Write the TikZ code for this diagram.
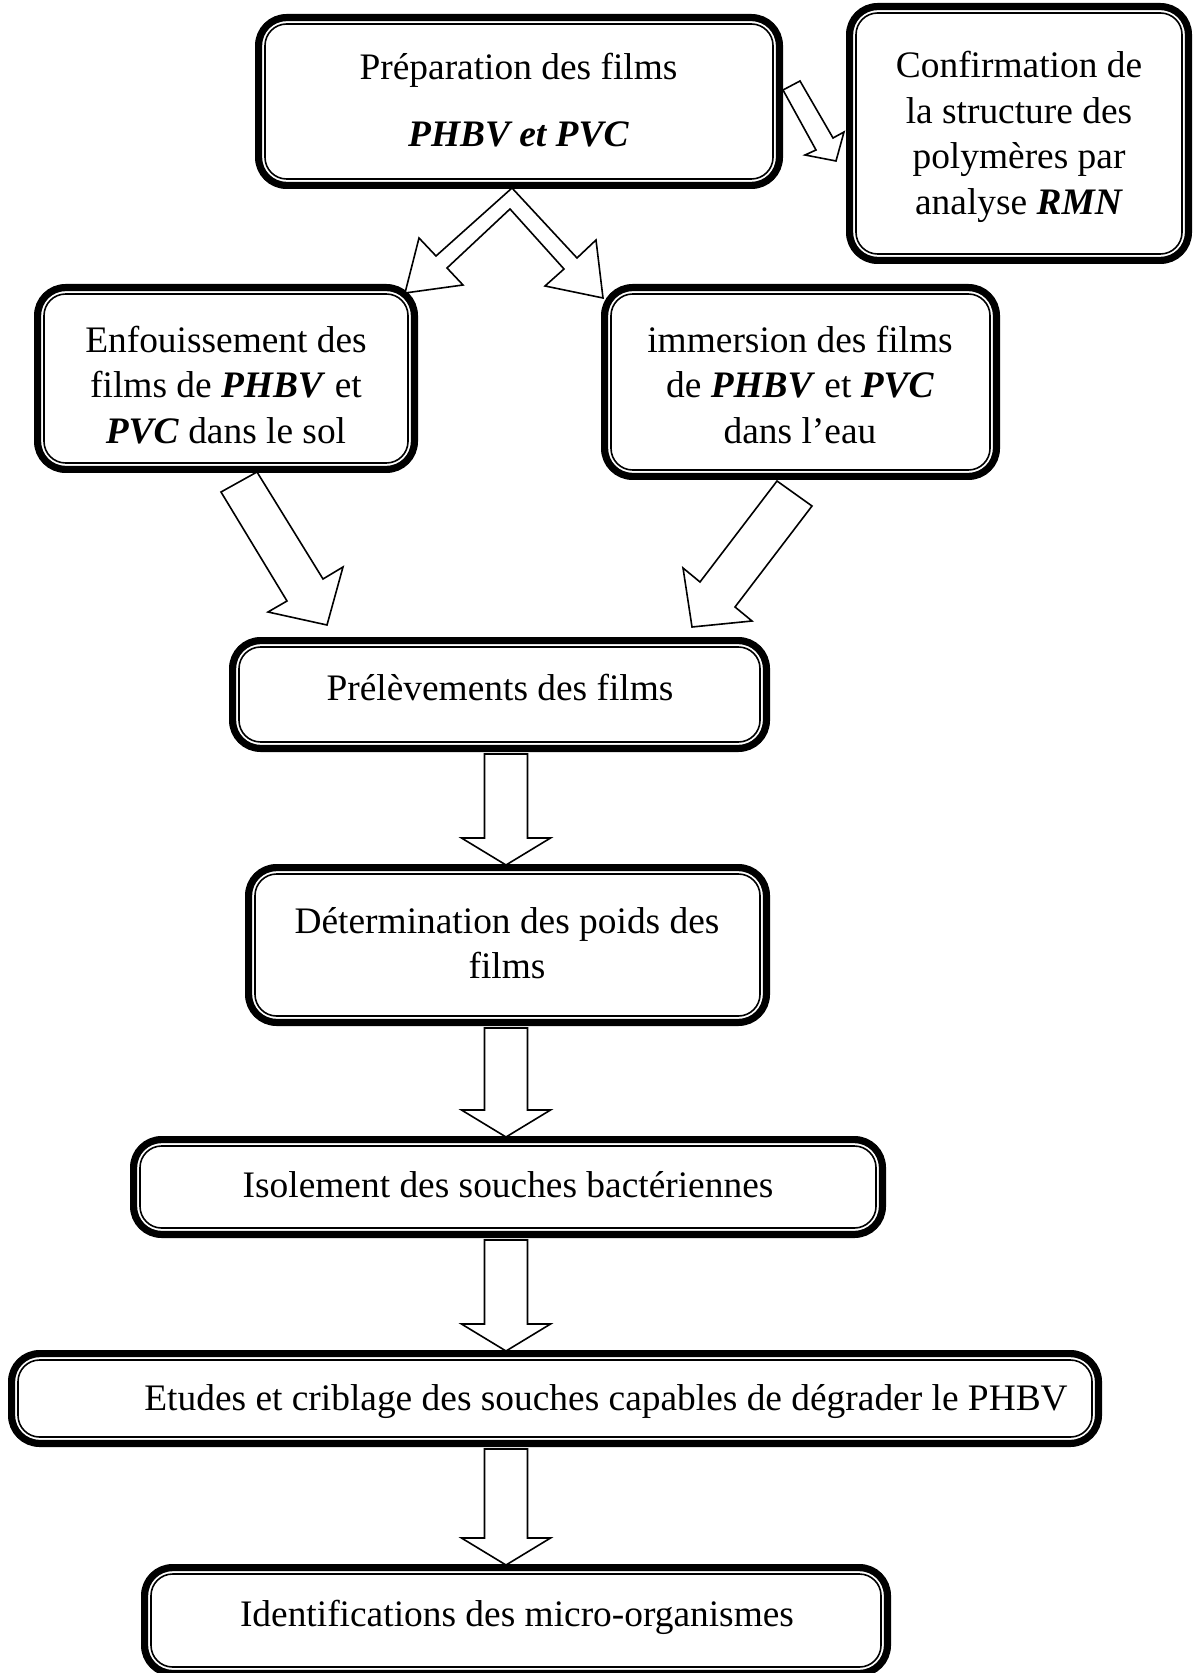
\documentclass[tikz,border=0pt]{standalone}
\usepackage{fontspec}
\setmainfont{Liberation Serif}
\usetikzlibrary{calc}
\newcommand{\bi}[1]{\textbf{\textit{#1}}}
\tikzset{
  dbox/.style={draw, line width=3.6pt, rounded corners=14pt, fill=white, inner sep=0pt},
  innerline/.style={draw, line width=0.8pt, rounded corners=10.8pt},
  lbl/.style={align=center, inner sep=0pt, font=\fontsize{18.7pt}{22.8pt}\selectfont},
  blockarrow/.style={draw, fill=white, line width=0.8pt, line join=miter},
}
% name, cx, cy, width, height : double-framed rounded box
\newcommand{\dnode}[5]{%
  \node[dbox, minimum width=#4, minimum height=#5] (#1) at (#2,#3) {};
  \draw[innerline] ([shift={(5pt,-5pt)}]#1.north west) rectangle ([shift={(-5pt,5pt)}]#1.south east);
}
% from node, to node : vertical block arrow
\newcommand{\vblockarrow}[2]{%
  \coordinate (at) at ($(ax |- #1.south)+(0,2)$);
  \coordinate (ah) at ($(ax |- #2.north)+(0,1)$);
  \draw[blockarrow] ($(at)+(-21.5,0)$) -- ($(at)+(21.5,0)$) -- ($(ah)+(21.5,-27)$) -- ($(ah)+(44.5,-27)$)
    -- (ah) -- ($(ah)+(-44.5,-27)$) -- ($(ah)+(-21.5,-27)$) -- cycle;
}
\begin{document}
\begin{tikzpicture}[x=0.5pt, y=-0.5pt]
\useasboundingbox (0,0) rectangle (1196,1673);
\coordinate (ax) at (506,0);

\dnode{b1}{519}{101.5}{260.4pt}{83.9pt}
\node[lbl] (t1) at (518.5,100.5) {Préparation des films\\[10.8pt]\bi{PHBV et PVC}};
\dnode{b2}{1019}{133.5}{169.4pt}{126.9pt}
\node[lbl] (t2) at (1019,137) {Confirmation de\\la structure des\\polymères par\\analyse \bi{RMN}};
\dnode{b3}{226}{378.5}{188.4pt}{90.9pt}
\node[lbl] (t3) at (226,385) {Enfouissement des\\films de \bi{PHBV} et\\\bi{PVC} dans le sol};
\dnode{b4}{800.5}{382}{195.9pt}{94.4pt}
\node[lbl] (t4) at (800,385) {immersion des films\\de \bi{PHBV} et \bi{PVC}\\dans l’eau};
\dnode{b5}{499.5}{694.5}{266.9pt}{53.9pt}
\node[lbl] (t5) at (500,688) {Prélèvements des films};
\dnode{b6}{507.5}{945}{258.9pt}{77.4pt}
\node[lbl] (t6) at (507,943) {Détermination des poids des\\films};
\dnode{b7}{508}{1187}{374.4pt}{47.4pt}
\node[lbl] (t7) at (508,1185) {Isolement des souches bactériennes};
\dnode{b8}{555}{1398.5}{543.4pt}{44.9pt}
\node[lbl] (t8) at (606,1402) {Etudes et criblage des souches capables de dégrader le PHBV};
\dnode{b9}{516}{1620.5}{371.4pt}{52.9pt}
\node[lbl] (t9) at (517,1617) {Identifications des micro-organismes};

% b1 -> b2
\draw[blockarrow] (783,90) -- (800,81) -- (833,138) -- (844,132) -- (836,161) -- (805,155) -- (816,150) -- cycle;
% b1 -> b3 and b1 -> b4 (chevron)
\draw[blockarrow] (512,188) -- (436,256) -- (419,238) -- (405,293) -- (463,285) -- (447,268) -- (510,209)
  -- (564,269) -- (545,286) -- (603,298) -- (596,240) -- (577,258) -- cycle;
% b3 -> b5
\draw[blockarrow] (221,492) -- (257,472) -- (323,579) -- (343,567) -- (327,625) -- (268,612) -- (287,601) -- cycle;
% b4 -> b5
\draw[blockarrow] (777,481) -- (812,506) -- (735,607) -- (752,621) -- (692,627) -- (683,568) -- (700,582) -- cycle;

\vblockarrow{b5}{b6}
\vblockarrow{b6}{b7}
\vblockarrow{b7}{b8}
\vblockarrow{b8}{b9}
\end{tikzpicture}
\end{document}
